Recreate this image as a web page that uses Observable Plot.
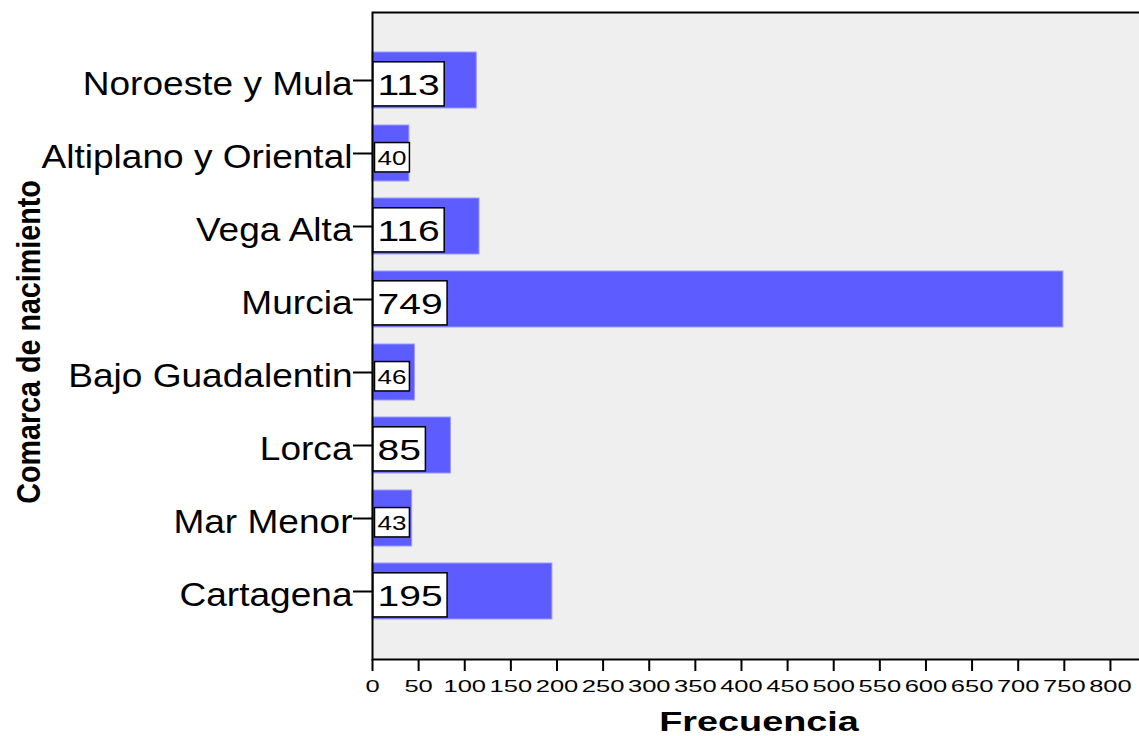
<!DOCTYPE html>
<html><head><meta charset="utf-8">
<script src="https://cdn.jsdelivr.net/npm/d3@7"></script>
<script src="https://cdn.jsdelivr.net/npm/@observablehq/plot@0.6"></script>
<style>html,body{margin:0;padding:0;background:#fff;overflow:hidden} svg{display:block}</style>
</head><body><div id="chart"></div>
<script>
const categories = ["Noroeste y Mula","Altiplano y Oriental","Vega Alta","Murcia","Bajo Guadalentin","Lorca","Mar Menor","Cartagena"];
const counts = [113,40,116,749,46,85,43,195];
const xTicks = [0,50,100,150,200,250,300,350,400,450,500,550,600,650,700,750,800];
const xTitle = "Frecuencia";
const yTitle = "Comarca de nacimiento";

const data = categories.map((c, i) => ({comarca: c, n: counts[i]}));

const chart = Plot.plot({
  width: 1145, height: 736,
  marginLeft: 372, marginRight: 0, marginTop: 12, marginBottom: 77,
  style: {fontFamily: "'Liberation Sans', Arial, sans-serif", background: "#fff", color: "#000", overflow: "visible", maxWidth: "none"},
  x: {domain: [0, 838], ticks: xTicks, tickFormat: d => String(d), label: null},
  y: {domain: categories, paddingInner: 0.233, paddingOuter: 0.548, label: null},
  marks: [
    Plot.frame({fill: "#efefef", stroke: null}),
    Plot.barX(data, {x: "n", y: "comarca", fill: "#5c5cff", stroke: "#9a9aff", strokeWidth: 1}),
    Plot.frame({stroke: "#000", strokeWidth: 2}),
    Plot.axisX({ticks: xTicks, tickFormat: d => String(d), tickSize: 12, tickPadding: 8, fontSize: 17, className: "xt", label: null, strokeWidth: 2}),
    Plot.axisY({tickSize: 19, tickPadding: 1, fontSize: 32.5, className: "yt", label: null, strokeWidth: 2}),
    Plot.text(data, {x: 0, y: "comarca", text: d => String(d.n), textAnchor: "start",
      fontSize: d => d.n < 50 ? 20 : 30, dx: 5, dy: 5, fill: "#000", className: "vl"}),
    Plot.text([xTitle], {frameAnchor: "bottom", text: d => d, dy: 71, fontWeight: "bold", fontSize: 28, fill: "#000", className: "xtitle"}),
    Plot.text([yTitle], {frameAnchor: "left", textAnchor: "middle", text: d => d, rotate: -90, dx: -343, dy: 6, fontWeight: "bold", fontSize: 33, fill: "#000", className: "ytitle"})
  ]
});
chart.style.maxWidth = "none";
chart.style.width = "1145px";
chart.style.height = "736px";
document.getElementById("chart").appendChild(chart);

function stretch(sel, k) {
  chart.querySelectorAll(sel).forEach(t => {
    const L = t.getComputedTextLength();
    t.setAttribute("textLength", L * k);
    t.setAttribute("lengthAdjust", "spacingAndGlyphs");
  });
}
stretch(".yt text", 1.14);
stretch(".xt text", 1.5);
stretch(".vl text", 1.3);
stretch(".xtitle text", 1.35);

// category labels sit slightly below their tick in the original
chart.querySelectorAll('g[aria-label="y-axis tick label"]').forEach(g => {
  const tr = g.getAttribute("transform") || "";
  g.setAttribute("transform", tr + " translate(0,4)");
});

// condense the rotated y title along its own direction
chart.querySelectorAll(".ytitle text").forEach(t => {
  const tr = t.getAttribute("transform") || "";
  t.setAttribute("transform", tr + " scale(0.87,1)");
});

// white boxes behind value labels
const yScale = chart.scale("y");
const vl = chart.querySelector("g.vl");
const boxes = document.createElementNS("http://www.w3.org/2000/svg", "g");
const svgRect = chart.getBoundingClientRect();
vl.querySelectorAll("text").forEach((t, i) => {
  const r = t.getBoundingClientRect();
  const fs = parseFloat(getComputedStyle(t).fontSize);
  const pad = fs * 0.15;
  const cy = yScale.apply(data[i].comarca) + yScale.bandwidth / 2 + 5 - 0.038 * fs;
  const h = fs * 1.47;
  const rect = document.createElementNS("http://www.w3.org/2000/svg", "rect");
  rect.setAttribute("x", r.left - svgRect.left - pad);
  rect.setAttribute("y", cy - h / 2);
  rect.setAttribute("width", r.width + 2 * pad);
  rect.setAttribute("height", h);
  rect.setAttribute("fill", "#fff");
  rect.setAttribute("stroke", "#000");
  rect.setAttribute("stroke-width", 1.5);
  boxes.appendChild(rect);
});
vl.parentNode.insertBefore(boxes, vl);
</script>
</body></html>
